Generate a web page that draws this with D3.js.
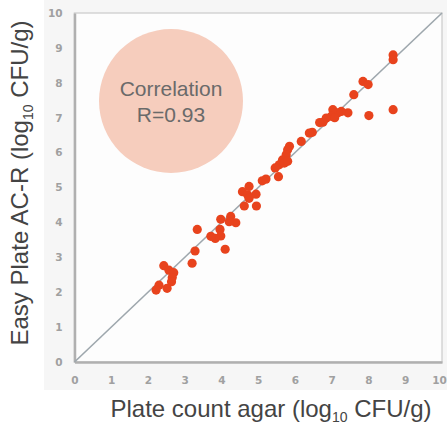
<!DOCTYPE html>
<html>
<head>
<meta charset="utf-8">
<script src="https://cdn.jsdelivr.net/npm/d3@7"></script>
<style>
  body { margin: 0; background: #fff; }
  svg { display: block; font-family: 'Liberation Sans', Arial, sans-serif; }
</style>
</head>
<body>
<div id="chart"></div>
<script>
// plate count agar (x) vs easy plate AC-R (y), log10 CFU/g
const plateCount = [
  8.67, 8.67, 7.85, 7.99, 7.60, 8.67, 8.01, 7.44, 7.26, 7.17,
  7.03, 6.99, 6.85, 6.76, 6.67, 7.08, 6.47, 6.39, 6.17, 5.85,
  5.80, 5.76, 5.66, 5.57, 5.71, 5.80, 5.46, 5.55, 5.21, 5.11,
  4.75, 4.57, 4.94, 4.71, 4.75, 4.62, 4.95, 4.25, 4.39, 4.21,
  3.98, 3.96, 3.98, 3.83, 3.71, 4.10, 3.34, 3.28, 3.20, 2.43,
  2.57, 2.70, 2.66, 2.64, 2.52, 2.30, 2.22
]
const easyPlate = [
  8.80, 8.66, 8.04, 7.95, 7.66, 7.23, 7.06, 7.14, 7.18, 7.14,
  7.23, 7.04, 6.99, 6.87, 6.86, 7.00, 6.58, 6.56, 6.32, 6.18,
  6.08, 5.94, 5.79, 5.65, 5.70, 5.75, 5.56, 5.31, 5.24, 5.19,
  5.03, 4.88, 4.81, 4.79, 4.69, 4.47, 4.47, 4.17, 3.99, 4.02,
  4.09, 3.80, 3.61, 3.54, 3.60, 3.23, 3.80, 3.18, 2.83, 2.76,
  2.63, 2.56, 2.42, 2.30, 2.11, 2.20, 2.06
]
const ticks = [0, 1, 2, 3, 4, 5, 6, 7, 8, 9, 10]
const corrLines = ['Correlation', 'R=0.93']

const width = 447
const height = 424
const plotLeft = 74.5, plotRight = 442, plotTop = 13, plotBottom = 362

const svg = d3.select('#chart')
  .append('svg')
  .attr('width', width)
  .attr('height', height)

const x = d3.scaleLinear().domain([0, 10]).range([plotLeft, plotRight])
const y = d3.scaleLinear().domain([0, 10]).range([plotBottom, plotTop])

// faint grey backdrop behind plot + tick labels
svg.append('rect')
  .attr('x', 44).attr('y', 0)
  .attr('width', width - 44).attr('height', 390)
  .attr('fill', '#f6f6f6')

svg.append('rect')
  .attr('x', plotLeft).attr('y', plotTop)
  .attr('width', plotRight - plotLeft).attr('height', plotBottom - plotTop)
  .attr('fill', '#fdfdfd')
  .attr('stroke', '#d4d4d4')
  .attr('stroke-width', 1.5)

// axes
const xAxis = svg.append('g')
  .attr('transform', `translate(0,${plotBottom})`)
  .call(d3.axisBottom(x).tickValues(ticks).tickSize(0).tickPadding(15))
const yAxis = svg.append('g')
  .attr('transform', `translate(${plotLeft},0)`)
  .call(d3.axisLeft(y).tickValues(ticks).tickSize(0).tickPadding(12))

;[xAxis, yAxis].forEach(g => {
  g.select('.domain').attr('stroke', '#b0b0b0').attr('stroke-width', 2.5)
  g.selectAll('text')
    .attr('fill', '#a0a0a0')
    .style('font-size', '10.5px')
    .style('font-weight', 'bold')
    .style('font-family', "'DejaVu Sans', sans-serif")
})
// last x label sits on the page edge; pull it in a touch
xAxis.selectAll('.tick').filter(d => d === 10).select('text').attr('x', -3)

// 1:1 line
svg.append('line')
  .attr('x1', x(0)).attr('y1', y(0))
  .attr('x2', x(10)).attr('y2', y(10))
  .attr('stroke', '#9ea7ad')
  .attr('stroke-width', 1.6)

// correlation bubble
svg.append('circle')
  .attr('cx', 171).attr('cy', 101).attr('r', 72)
  .attr('fill', '#f6cdbd')

svg.append('g')
  .selectAll('text')
  .data(corrLines)
  .enter()
  .append('text')
  .attr('x', 171)
  .attr('y', (d, i) => 96 + i * 26)
  .attr('text-anchor', 'middle')
  .attr('fill', '#6a6a6a')
  .style('font-size', '21px')
  .text(d => d)

// points
svg.append('g')
  .selectAll('circle')
  .data(plateCount.map((v, i) => [v, easyPlate[i]]))
  .enter()
  .append('circle')
  .attr('cx', d => x(d[0]))
  .attr('cy', d => y(d[1]))
  .attr('r', 4.6)
  .attr('fill', '#e8431d')

// axis titles
function title(sel, before, after) {
  sel.append('tspan').text(before)
  sel.append('tspan').text('10')
    .attr('dy', 5).style('font-size', '14px')
  sel.append('tspan').text(after).attr('dy', -5)
}

const xt = svg.append('text')
  .attr('x', 271).attr('y', 417)
  .attr('text-anchor', 'middle')
  .attr('fill', '#444')
  .style('font-size', '24px')
title(xt, 'Plate count agar (log', ' CFU/g)')

const yt = svg.append('text')
  .attr('transform', 'translate(28,183) rotate(-90)')
  .attr('text-anchor', 'middle')
  .attr('fill', '#444')
  .style('font-size', '24px')
title(yt, 'Easy Plate AC-R (log', ' CFU/g)')
</script>
</body>
</html>
